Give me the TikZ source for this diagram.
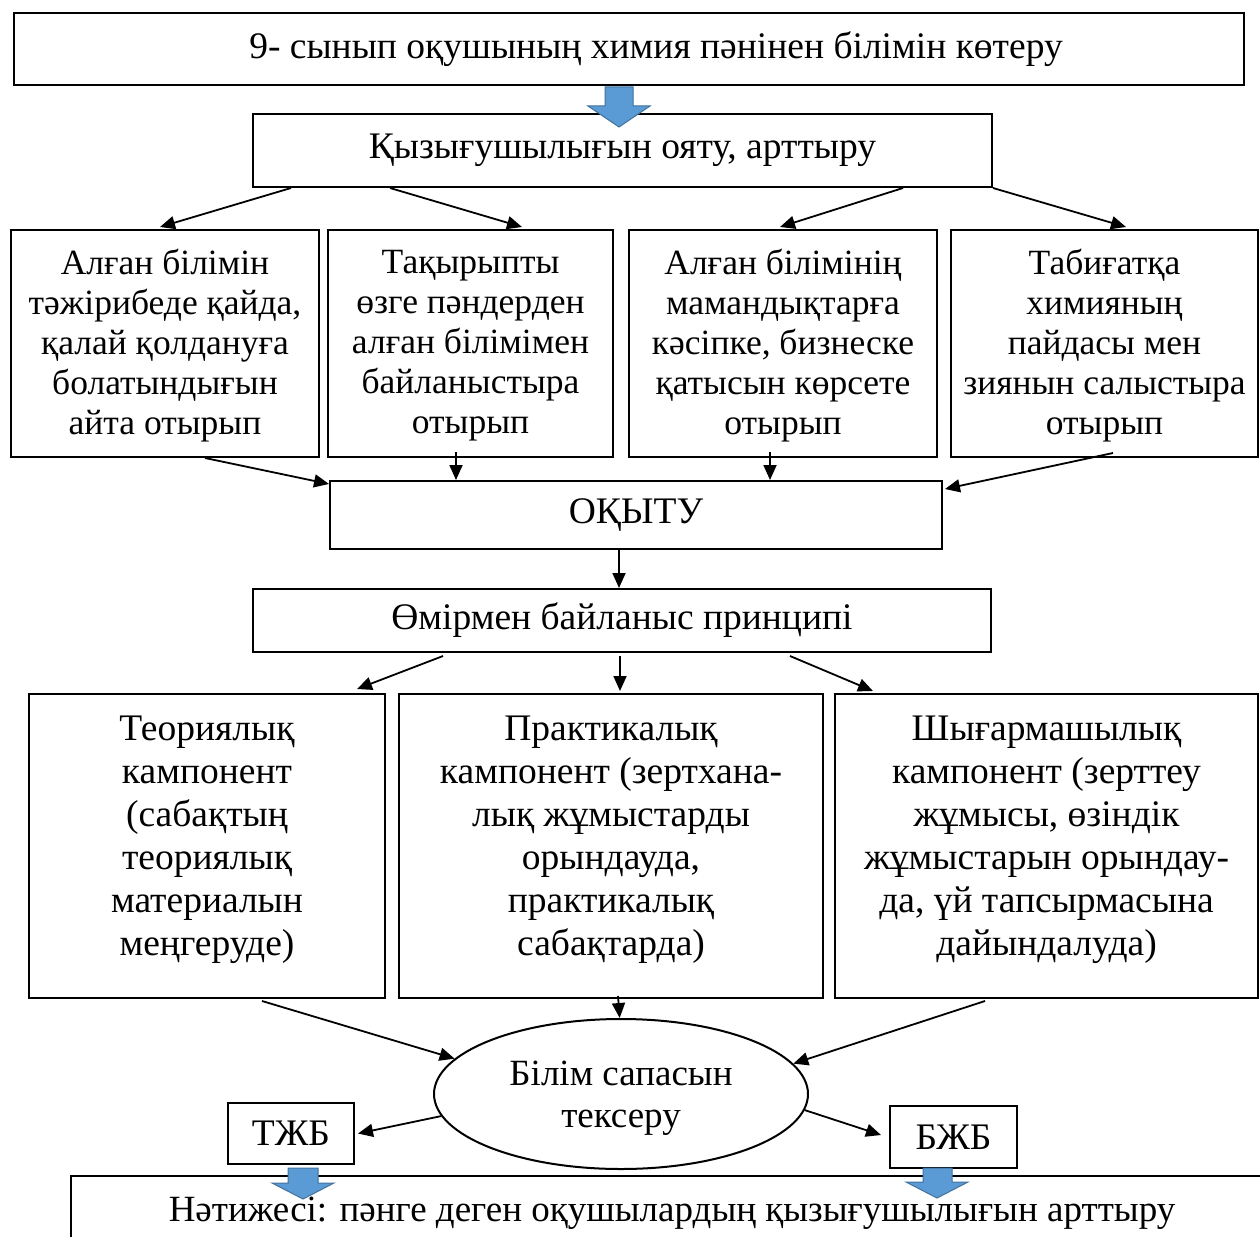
\documentclass[tikz,border=0pt]{standalone}
\usepackage{fontspec}
\setmainfont{Liberation Serif}
\usetikzlibrary{arrows.meta,shapes.geometric,calc}
\definecolor{arrowblue}{HTML}{5B9BD5}
\definecolor{arrowedge}{HTML}{41719C}
\begin{document}
\begin{tikzpicture}[x=1pt,y=-1pt,
  box/.style={draw, line width=2pt, inner sep=0pt, align=center, fill=white},
  rowtext/.style={font=\fontsize{35.5}{40}\selectfont, text depth=4pt},
  bigtext/.style={font=\fontsize{37.5}{43}\selectfont},
  conn/.style={line width=1.8pt, -{Triangle[length=15pt,width=13pt]}},
  bluearrow/.style={fill=arrowblue, draw=arrowedge, line width=1pt}
]
\useasboundingbox (0,0) rectangle (1260,1236);
\fill[white] (0,0) rectangle (1260,1236);

% top
\node[box, bigtext, minimum width=1230, minimum height=72] (top) at (629,49) {\hspace*{54pt}9- сынып оқушының химия пәнінен білімін көтеру};
\node[box, bigtext, minimum width=739, minimum height=73] (q) at (622.5,150.5) {Қызығушылығын ояту, арттыру};

% row of four
\node[box, rowtext, minimum width=308, minimum height=227] (b1) at (165,343.5) {Алған білімін\\тәжірибеде қайда,\\қалай қолдануға\\болатындығын\\айта отырып};
\node[box, rowtext, minimum width=285, minimum height=227] (b2) at (470.5,343.5) {Тақырыпты\\өзге пәндерден\\алған білімімен\\байланыстыра\\отырып};
\node[box, rowtext, minimum width=308, minimum height=227] (b3) at (783,343.5) {Алған білімінің\\мамандықтарға\\кәсіпке, бизнеске\\қатысын көрсете\\отырып};
\node[box, rowtext, minimum width=307, minimum height=227] (b4) at (1104.5,343.5) {Табиғатқа\\химияның\\пайдасы мен\\зиянын салыстыра\\отырып};

\node[box, bigtext, minimum width=612, minimum height=68] (o) at (636,515) {ОҚЫТУ};
\node[box, bigtext, minimum width=738, minimum height=63] (p) at (622,620.5) {Өмірмен байланыс принципі};

% three components
\node[box, bigtext, text depth=20pt, minimum width=356, minimum height=304] (c1) at (207,846) {Теориялық\\кампонент\\(сабақтың\\теориялық\\материалын\\меңгеруде)};
\node[box, bigtext, text depth=20pt, minimum width=424, minimum height=304] (c2) at (611,846) {Практикалық\\кампонент (зертхана-\\лық жұмыстарды\\орындауда,\\практикалық\\сабақтарда)};
\node[box, bigtext, text depth=20pt, minimum width=423, minimum height=304] (c3) at (1046.5,846) {Шығармашылық\\кампонент (зерттеу\\жұмысы, өзіндік\\жұмыстарын орындау-\\да, үй тапсырмасына\\дайындалуда)};

% ellipse
\node[draw, line width=2pt, ellipse, inner sep=0pt, minimum width=374, minimum height=150, align=center, font=\fontsize{37}{42}\selectfont, text depth=0pt] (e) at (621,1094) {Білім сапасын\\тексеру};

\node[box, bigtext, minimum width=126, minimum height=61] (t) at (291,1133.5) {ТЖБ};
\node[box, bigtext, minimum width=127, minimum height=62] (bz) at (953.5,1137) {БЖБ};

% result box (runs off the page)
\node[box, font=\fontsize{37}{43}\selectfont, minimum width=1202, minimum height=74] (r) at (672,1213) {Нәтижесі: пәнге деген оқушылардың қызығушылығын арттыру};

% connectors
\draw[conn] ($(q.south)+(-331.5,0)$) -- ($(b1.north)+(-5,-2)$);
\draw[conn] ($(q.south)+(-232.5,0)$) -- ($(b2.north)+(51.5,-2)$);
\draw[conn] ($(q.south)+(280.5,0)$) -- ($(b3.north)+(-3,-2)$);
\draw[conn] (q.south east) -- ($(b4.north)+(21.5,-2)$);

\draw[conn] ($(b1.south)+(40,0)$) -- ($(o.north west)+(0,4)$);
\draw[conn] ($(b2.south)+(-14.5,-6)$) -- ($(o.north)+(-180,0)$);
\draw[conn] ($(b3.south)+(-13,-6)$) -- ($(o.north)+(134,0)$);
\draw[conn] ($(b4.south)+(8.5,-5)$) -- ($(o.north east)+(2,9)$);

\draw[conn] ($(o.south)+(-17,0)$) -- ($(p.north)+(-3,0)$);

\draw[conn] ($(p.south)+(-179,3)$) -- ($(c1.north)+(150,-4)$);
\draw[conn] ($(p.south)+(-2,3)$) -- ($(c2.north)+(9,-2)$);
\draw[conn] ($(p.south)+(168,3)$) -- ($(c3.north)+(-173.5,-2)$);

\draw[conn] ($(c1.south)+(55,2)$) -- (e.168);
\draw[conn] ($(c2.south)+(7,-3)$) -- (e.91);
\draw[conn] ($(c3.south)+(-61.5,2)$) -- (e.10);

\draw[conn] (e.187) -- ($(t.east)+(3,0)$);
\draw[conn] (e.-5) -- ($(bz.west)+(-8,-2)$);

% block arrows
\filldraw[bluearrow] (605,87) -- (633,87) -- (633,106) -- (650,106) -- (619,127) -- (588,106) -- (605,106) -- cycle;
\filldraw[bluearrow] (288,1168) -- (318,1168) -- (318,1183) -- (334,1183) -- (303,1199) -- (272,1183) -- (288,1183) -- cycle;
\filldraw[bluearrow] (923,1168) -- (952,1168) -- (952,1182) -- (968,1182) -- (937,1198) -- (906,1182) -- (923,1182) -- cycle;
\end{tikzpicture}
\end{document}
